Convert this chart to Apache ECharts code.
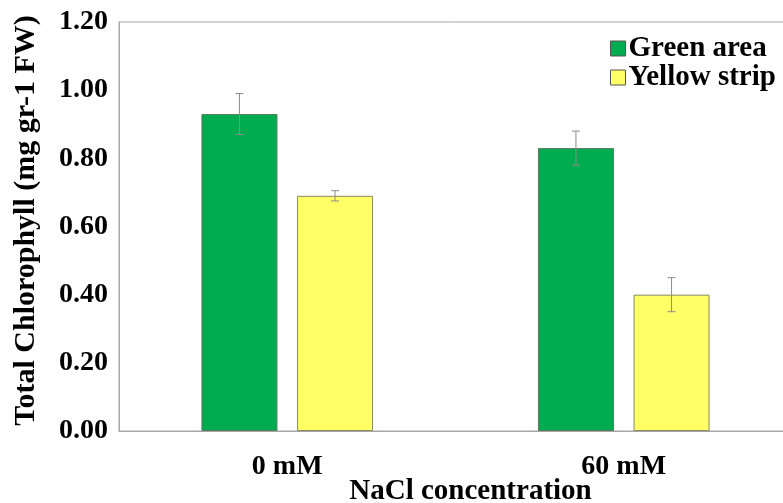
<!DOCTYPE html>
<html>
<head>
<meta charset="utf-8">
<script src="https://cdn.jsdelivr.net/npm/echarts@6/dist/echarts.min.js"></script>
<style>
html,body{margin:0;padding:0;background:#fff;}
#chart{width:783px;height:503px;}
</style>
</head>
<body>
<div id="chart"></div>
<script>
const categories = ['0 mM', '60 mM'];
const seriesNames = ['Green area', 'Yellow strip'];
const greenValues = [0.93, 0.83];
const yellowValues = [0.69, 0.40];
const greenErrors = [0.06, 0.05];
const yellowErrors = [0.015, 0.05];
const yTicks = [0, 0.2, 0.4, 0.6, 0.8, 1.0, 1.2];

const FONT = 'Liberation Serif';
const BAR_W = 76;
const BAR_GAP_PX = 19.6;
const offs = [-(BAR_W + BAR_GAP_PX) / 2, (BAR_W + BAR_GAP_PX) / 2];

function errData(vals, errs) {
  return vals.map((v, i) => [i, v - errs[i], v + errs[i]]);
}
function errSeries(name, vals, errs, idx) {
  return {
    type: 'custom',
    name: name + ' err',
    data: errData(vals, errs),
    z: 10,
    silent: true,
    renderItem: function (params, api) {
      const x = api.value(0);
      const lo = api.coord([x, api.value(1)]);
      const hi = api.coord([x, api.value(2)]);
      const cx = lo[0] + offs[idx];
      const cap = 4;
      const st = { stroke: '#8c8c8c', lineWidth: 1 };
      return {
        type: 'group',
        children: [
          { type: 'line', shape: { x1: cx, y1: lo[1], x2: cx, y2: hi[1] }, style: st },
          { type: 'line', shape: { x1: cx - cap, y1: lo[1], x2: cx + cap, y2: lo[1] }, style: st },
          { type: 'line', shape: { x1: cx - cap, y1: hi[1], x2: cx + cap, y2: hi[1] }, style: st }
        ]
      };
    }
  };
}

const chart = echarts.init(document.getElementById('chart'));
chart.setOption({
  animation: false,
  backgroundColor: '#fff',
  grid: {
    left: 119, top: 22, right: -9, bottom: 72,
    containLabel: false,
    outerBoundsMode: 'none',
    show: true, borderColor: '#a6a6a6', borderWidth: 1, backgroundColor: 'transparent'
  },
  legend: {
    orient: 'vertical',
    left: 605, top: 29,
    icon: 'rect',
    itemWidth: 15, itemHeight: 15, itemGap: 0,
    data: seriesNames,
    itemStyle: { borderColor: '#555', borderWidth: 1 },
    textStyle: { fontFamily: FONT, fontWeight: 'bold', fontSize: 29, color: '#000', padding: [0,0,0,-2] }
  },
  xAxis: {
    type: 'category',
    data: categories,
    axisLine: { lineStyle: { color: '#a6a6a6', width: 1 } },
    axisTick: { show: false },
    axisLabel: { fontFamily: FONT, fontWeight: 'bold', fontSize: 28, color: '#000', margin: 22 },
    name: 'NaCl concentration',
    nameLocation: 'middle',
    nameMoveOverlap: false,
    nameGap: 46,
    nameTextStyle: { fontFamily: FONT, fontWeight: 'bold', fontSize: 29, color: '#000', padding: [0,0,0,30] }
  },
  yAxis: {
    type: 'value',
    min: 0, max: 1.2, interval: 0.2,
    axisLine: { show: true, lineStyle: { color: '#a6a6a6', width: 1 } },
    axisTick: { show: false },
    splitLine: { show: false },
    axisLabel: {
      fontFamily: FONT, fontWeight: 'bold', fontSize: 28, color: '#000', margin: 11,
      formatter: v => v.toFixed(2)
    },
    name: 'Total Chlorophyll (mg gr-1 FW)',
    nameLocation: 'middle',
    nameMoveOverlap: false,
    nameGap: 78,
    nameTextStyle: { fontFamily: FONT, fontWeight: 'bold', fontSize: 30, color: '#000', padding: [0,0,0,12] }
  },
  series: [
    {
      type: 'bar', name: seriesNames[0], data: greenValues,
      barWidth: BAR_W, barGap: (BAR_GAP_PX / BAR_W * 100) + '%',
      itemStyle: { color: '#00ac4f', borderColor: '#5a7a5f', borderWidth: 1 }
    },
    {
      type: 'bar', name: seriesNames[1], data: yellowValues,
      barWidth: BAR_W,
      itemStyle: { color: '#ffff66', borderColor: '#8a8a60', borderWidth: 1 }
    },
    errSeries(seriesNames[0], greenValues, greenErrors, 0),
    errSeries(seriesNames[1], yellowValues, yellowErrors, 1)
  ]
});
</script>
</body>
</html>
